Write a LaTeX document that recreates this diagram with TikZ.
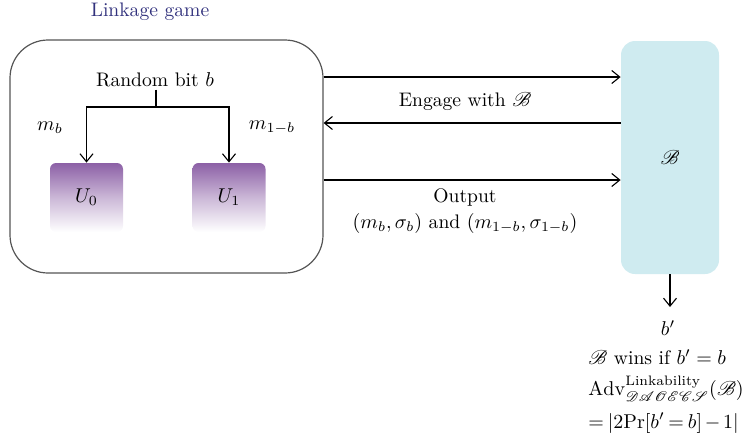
\documentclass[tikz,border=0pt]{standalone}
\usepackage{amsmath}
\usepackage{mathrsfs}
\usetikzlibrary{arrows.meta}
\definecolor{titleblue}{RGB}{50,50,125}
\definecolor{userpurple}{RGB}{140,96,166}
\definecolor{advcyan}{RGB}{207,235,240}
\definecolor{boxgrey}{RGB}{85,85,85}
\newcommand{\narrowmath}{\thickmuskip=3.5mu\relax\medmuskip=2.5mu\relax}
\tikzset{
  lbl/.style={inner sep=1pt, font=\fontsize{9.8}{11}\selectfont},
  tight/.style={lbl, font=\fontsize{9.8}{11}\selectfont\narrowmath},
  flow/.style={line width=0.55pt, -{Straight Barb[length=4pt,width=6.5pt]}},
  userbox/.style={rounded corners=3pt, minimum width=36.5pt, minimum height=34.5pt,
    top color=userpurple, bottom color=white, middle color=userpurple!45,
    inner sep=0pt, font=\fontsize{9.8}{11}\selectfont},
}
\begin{document}
\begin{tikzpicture}[x=0.5pt, y=-0.5pt]
  \useasboundingbox (0,0) rectangle (747,445);

  % title
  \node[lbl, text=titleblue] (title) at (150,12) {Linkage game};

  % the game box with the two users
  \node[draw=boxgrey, line width=0.6pt, rounded corners=19pt, minimum width=156.5pt,
        minimum height=116.5pt, inner sep=0pt] (game) at (166.5,156.5) {};
  \node[lbl] (rnd) at (155,80) {Random bit $b$};
  \coordinate (split) at (156,107);
  \node[userbox] (u0) at (86.5,197.5) {$U_0$};
  \node[userbox] (u1) at (229,197.5) {$U_1$};
  \node[lbl] (mb) at (50,128) {$m_b$};
  \node[lbl] (m1b) at (272,128) {$m_{1-b}$};

  \draw[line width=0.55pt] (rnd.south -| split) -- (split);
  \draw[flow] (split) -| (u0.north);
  \draw[flow] (split) -| (u1.north);

  % the adversary
  \node[fill=advcyan, rounded corners=7pt, minimum width=49pt, minimum height=116.5pt,
        inner sep=0pt, font=\fontsize{9.8}{11}\selectfont] (adv) at (670,157.5) {$\mathscr{B}$};

  % messages between the game and the adversary
  \coordinate (r1) at (0,77);
  \coordinate (r2) at (0,123);
  \coordinate (r3) at (0,180);
  \draw[flow] (game.east |- r1) -- (adv.west |- r1);
  \draw[flow] (adv.west |- r2) -- (game.east |- r2);
  \draw[flow] (game.east |- r3) -- (adv.west |- r3);
  \node[lbl] (engage) at (465,102) {Engage with $\mathscr{B}$};
  \node[lbl] (output) at (465,197) {Output};
  \node[lbl] (pairs) at (465,223) {$(m_b,\sigma_b)$ and $(m_{1-b},\sigma_{1-b})$};

  % the guess and the advantage
  \node[lbl] (bp) at (668,328) {$b'$};
  \coordinate (guess) at (670,307);
  \draw[flow] (adv.south -| guess) -- (guess);
  \node[lbl, anchor=west] (wins) at (586,357) {$\mathscr{B}$ wins if $b'=b$};
  \node[lbl, anchor=west] (advt) at (586,389)
    {$\mathrm{Adv}^{\text{Linkability}}_{\mathscr{DAOECS}}(\mathscr{B})$};
  \node[tight, anchor=west] (eqn) at (586,423) {$=|2\mathrm{Pr}[b'=b]-1|$};
\end{tikzpicture}
\end{document}
